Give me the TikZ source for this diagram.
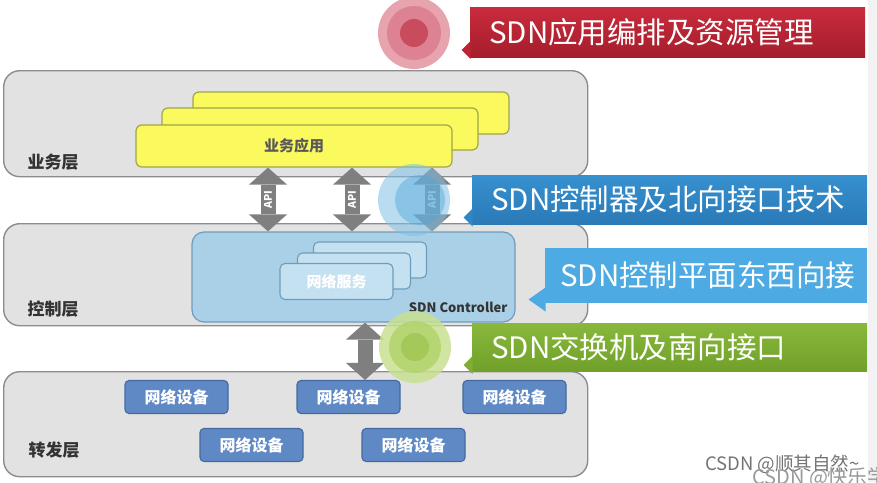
\documentclass[tikz,border=0pt]{standalone}
\usepackage{fontspec}
\setmainfont{Noto Sans CJK SC}
\usetikzlibrary{arrows.meta,positioning}

\definecolor{layerfill}{HTML}{E2E2E2}
\definecolor{layerline}{HTML}{8C8C8C}
\definecolor{appfill}{HTML}{FAFA5E}
\definecolor{appline}{HTML}{A2A44A}
\definecolor{ctrlfill}{HTML}{A9D0E6}
\definecolor{ctrlline}{HTML}{6E9DBB}
\definecolor{svcfill}{HTML}{C4E1F1}
\definecolor{devfill}{HTML}{5F89C5}
\definecolor{devline}{HTML}{45699F}
\definecolor{apigray}{HTML}{7F7F7F}
\definecolor{bandred}{HTML}{BC2434}
\definecolor{bandredtop}{HTML}{C92C3D}
\definecolor{bandredbot}{HTML}{A51D2C}
\definecolor{bandblue}{HTML}{2F87C6}
\definecolor{bandbluetop}{HTML}{3790CF}
\definecolor{bandbluebot}{HTML}{2A7AB7}
\definecolor{bandsky}{HTML}{4DAAE2}
\definecolor{bandgreen}{HTML}{7EAE33}
\definecolor{bandgreentop}{HTML}{88B83C}
\definecolor{bandgreenbot}{HTML}{71A02A}
\definecolor{dotredA}{HTML}{E7A3AE}
\definecolor{dotredB}{HTML}{DC8292}
\definecolor{dotredC}{HTML}{C94B5E}
\definecolor{dotblueA}{HTML}{7FC0E6}
\definecolor{dotblueB}{HTML}{4FA6DA}
\definecolor{dotgreenA}{HTML}{C8E090}
\definecolor{dotgreenB}{HTML}{B2D36C}
\definecolor{dotgreenC}{HTML}{A3C853}

\tikzset{
  apitip/.tip={Triangle[width=38pt,length=17pt,line width=0pt]},
  layer/.style={draw=layerline, line width=1.4pt, fill=layerfill,
    rounded corners=16pt, minimum width=584pt, anchor=north west},
  tag/.style={font=\fontsize{17}{17}\selectfont\bfseries, text=black!80},
  appbox/.style={draw=appline, line width=1.2pt, fill=appfill,
    rounded corners=6pt, minimum width=316pt, minimum height=42pt},
  svcbox/.style={draw=ctrlline, line width=1.1pt, fill=svcfill,
    rounded corners=5pt, minimum width=113pt, minimum height=36pt},
  devbox/.style={draw=devline, line width=1.1pt, fill=devfill,
    rounded corners=4pt, minimum width=103pt, minimum height=33pt,
    text=white, font=\fontsize{16}{16}\selectfont\bfseries},
  apiarrow/.style={draw=apigray, line width=15pt, apitip-apitip},
  apitext/.style={midway, rotate=90, text=white, inner sep=0pt,
    font=\fontsize{10.5}{10.5}\selectfont\bfseries},
  band/.style={text=white, font=\fontsize{29.5}{29.5}\selectfont, align=left,
    inner ysep=0pt, inner xsep=19pt, text width=357pt},
}

\begin{document}
\begin{tikzpicture}[x=1pt,y=-1pt]
    \clip (0,0) rectangle (877,482);
    \fill[black!5] (868,0) rectangle (877,482);

    \node[layer, minimum height=106pt] (biz) at (3,70)  {};
    \node[layer, minimum height=102pt] (ctl) at (3,223) {};
    \node[layer, minimum height=105pt] (fwd) at (3,371) {};
    \node[tag] (bizname) at (53,162) {业务层};
    \node[tag] (ctlname) at (53,309) {控制层};
    \node[tag] (fwdname) at (54,450) {转发层};
    %
    \node[appbox] (app3) at (351,113) {};
    \node[appbox] (app2) at (320,129) {};
    \node[appbox, text=black!65, font=\fontsize{15}{15}\selectfont\bfseries]
        (app) at (294,146) {业务应用};
    %
    \node[draw=ctrlline, line width=1.2pt, fill=ctrlfill, rounded corners=12pt,
        minimum width=323pt, minimum height=90pt] (ctrl) at (353.5,277) {};
    \node[svcbox] (svc3) at (370,260) {};
    \node[svcbox] (svc2) at (354,271) {};
    \node[svcbox, text=white, font=\fontsize{15}{15}\selectfont\bfseries]
        (svc) at (336.5,281.5) {网络服务};
    \node[anchor=south east, inner sep=0pt, text=black!80,
        font=\fontsize{13}{13}\selectfont\bfseries]
        (ctrlname) at ([xshift=-8pt,yshift=10pt]ctrl.south east) {SDN Controller};
    %
    \node[devbox] (dev1) at (176.5,397) {网络设备};
    \node[devbox] (dev2) at (348.5,397) {网络设备};
    \node[devbox] (dev3) at (514.5,397) {网络设备};
    \node[devbox] (dev4) at (251.5,445) {网络设备};
    \node[devbox] (dev5) at (413.5,445) {网络设备};
    %
    \coordinate (apiA) at (268,0);
    \coordinate (apiB) at (352,0);
    \coordinate (apiC) at (432,0);
    \coordinate (sbi)  at (365,0);
    \path[apiarrow] (app.south -| apiA) -- (ctrl.north -| apiA) node[apitext] {API};
    \path[apiarrow] (app.south -| apiB) -- (ctrl.north -| apiB) node[apitext] {API};
    \path[apiarrow] (app.south -| apiC) -- (ctrl.north -| apiC) node[apitext] {API};
    \path[apiarrow] (ctrl.south -| sbi) -- (dev2.north -| sbi);
    %
    \fill[dotredA] (414,33) circle[radius=36pt];
    \fill[dotredB] (414,33) circle[radius=27pt];
    \fill[dotredC] (414,33) circle[radius=14pt];
    \fill[dotblueA, opacity=.55] (414,200) circle[radius=36pt];
    \fill[dotblueB, opacity=.45] (420,200) circle[radius=25pt];
    \fill[dotgreenA, opacity=.85] (415,347) circle[radius=36pt];
    \fill[dotgreenB, opacity=.85] (415,347) circle[radius=26pt];
    \fill[dotgreenC, opacity=.85] (415,347) circle[radius=14pt];
    %
    \node[band, top color=bandredtop, bottom color=bandredbot,
        minimum height=50pt, anchor=west] (orch) at (470,32) {SDN应用编排及资源管理};
    \node[band, top color=bandbluetop, bottom color=bandbluebot,
        minimum height=49pt, anchor=west] (north) at (472,199.5) {SDN控制器及北向接口技术};
    \node[band, fill=bandsky, minimum height=55pt, anchor=west,
        inner xsep=15pt, text width=292pt] (east) at (545,275.5) {SDN控制平面东西向接};
    \node[band, top color=bandgreentop, bottom color=bandgreenbot,
        minimum height=48pt, anchor=west] (south) at (472,347) {SDN交换机及南向接口};
    \fill[bandred] ([xshift=.5pt,yshift=-9pt]orch.west) -- ++(-9,9) -- ++(9,9) -- cycle;
    \fill[bandblue] ([xshift=.5pt,yshift=-9pt]north.west) -- ++(-9,9) -- ++(9,9) -- cycle;
    \fill[bandsky] ([xshift=.5pt,yshift=-12pt]east.west) -- ++(-17,12) -- ++(17,12) -- cycle;
    \fill[bandgreen] ([xshift=.5pt,yshift=-9pt]south.west) -- ++(-9,9) -- ++(9,9) -- cycle;
    %
    \node[anchor=base west, inner sep=0pt, text=black!55,
        font=\fontsize{18.5}{18.5}\selectfont] (mark1) at (705,470) {CSDN @顺其自然\textasciitilde};
    \node[anchor=base west, inner sep=0pt, text=black!40,
        font=\fontsize{20}{20}\selectfont] (mark2) at (752,484) {CSDN @快乐学习};
\end{tikzpicture}
\end{document}
